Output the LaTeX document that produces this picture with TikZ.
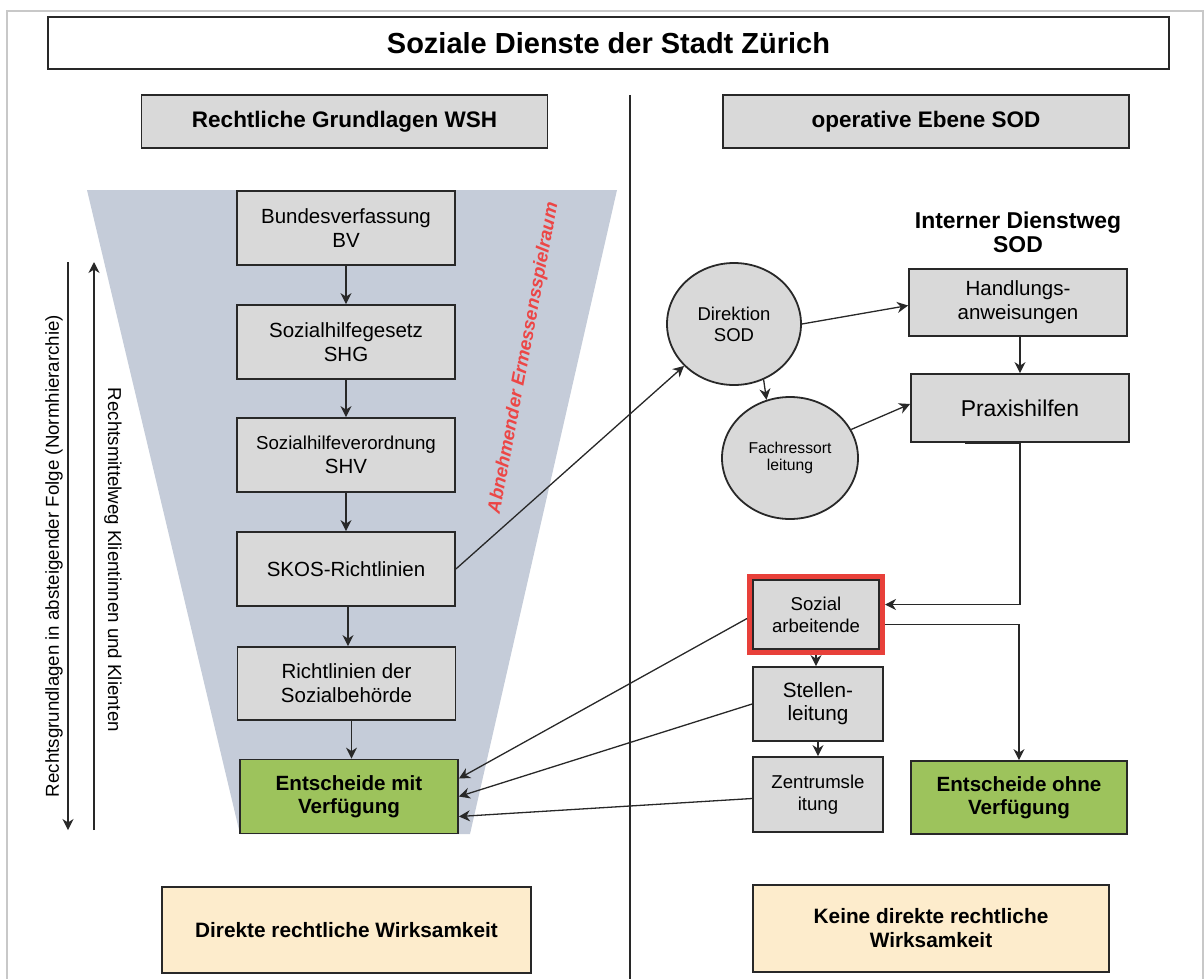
\documentclass[tikz,border=0pt]{standalone}
\usepackage{fontspec}
\setmainfont{Liberation Sans}
\usetikzlibrary{arrows.meta,shapes.geometric}
\definecolor{boxgray}{RGB}{217,217,217}
\definecolor{boxborder}{RGB}{40,40,40}
\definecolor{linecol}{RGB}{40,40,40}
\definecolor{funnel}{RGB}{197,204,217}
\definecolor{okgreen}{RGB}{157,195,92}
\definecolor{beige}{RGB}{253,236,204}
\definecolor{framegray}{RGB}{200,200,200}
\definecolor{hired}{RGB}{232,64,58}
\definecolor{textred}{RGB}{236,70,70}
\begin{document}
\begin{tikzpicture}[x=1pt,y=1pt,
  box/.style={draw=boxborder,line width=1.8pt,fill=boxgray,align=center,inner sep=0pt,
    minimum width=218pt,minimum height=74pt,font=\fontsize{20.5}{24}\selectfont},
  greenbox/.style={box,fill=okgreen,font=\bfseries\fontsize{20.6}{23.5}\selectfont},
  beigebox/.style={box,fill=beige,font=\bfseries\fontsize{20.8}{24}\selectfont},
  headbox/.style={box,minimum width=406pt,minimum height=53pt,font=\bfseries\fontsize{22.5}{26}\selectfont},
  circ/.style={ellipse,draw=boxborder,line width=1.8pt,fill=boxgray,align=center,inner sep=0pt,
    minimum width=134pt,minimum height=122pt},
  conn/.style={draw=linecol,line width=1.3pt,-{Stealth[length=11pt,width=11pt,inset=3.5pt]}},
  sidetext/.style={font=\fontsize{18.7}{22}\selectfont,inner sep=0pt}
]
\useasboundingbox (0,0) rectangle (1204,-979);
% outer frame
\draw[framegray,line width=2pt] (7,-979) -- (7,-11) -- (1203,-11) -- (1203,-979);
% title
\node[draw=boxborder,line width=1.8pt,minimum width=1121pt,minimum height=52pt,inner sep=0pt,
  font=\bfseries\fontsize{29}{34}\selectfont] (title) at (608.5,-43) {Soziale Dienste der Stadt Zürich};
% headers
\node[headbox] (hl) at (344.5,-121.5) {Rechtliche Grundlagen WSH};
\node[headbox] (hr) at (926,-121.5) {operative Ebene SOD};
% divider
\draw[linecol,line width=1.3pt] (630,-95) -- (630,-979);
% funnel
\fill[funnel] (87,-190) -- (617,-190) -- (470,-834) -- (240,-834) -- cycle;
% left column boxes
\node[box] (bv) at (346,-228) {Bundesverfassung\\BV};
\node[box] (shg) at (346,-342) {Sozialhilfegesetz\\SHG};
\node[box] (shv) at (346,-455) {{\fontsize{18.7}{24}\selectfont Sozialhilfeverordnung}\\SHV};
\node[box] (skos) at (346,-569) {SKOS-Richtlinien};
\node[box,minimum height=73pt] (rl) at (346.5,-683.5) {Richtlinien der\\Sozialbehörde};
\node[greenbox] (emv) at (349,-796.5) {Entscheide mit\\Verfügung};
\draw[conn] (bv) -- (shg);
\draw[conn] (shg) -- (shv);
\draw[conn] (shv) -- (skos);
\draw[conn] ([xshift=2pt]skos.south) -- ([xshift=2pt]skos.south |- rl.north);
\draw[conn] ([xshift=5pt]rl.south) -- ([xshift=5pt]rl.south |- emv.north);
% red rotated text
\node[rotate=79.4,text=textred,inner sep=0pt,font=\bfseries\itshape\fontsize{18.5}{22}\selectfont] (erm) at (524,-358) {Abnehmender Ermessensspielraum};
% left side arrows and texts
\coordinate (a1top) at (68,-262);
\coordinate (a1bot) at (68,-830);
\coordinate (a2top) at (94,-262);
\coordinate (a2bot) at (94,-830);
\draw[conn] (a1top) -- (a1bot);
\draw[conn] (a2bot) -- (a2top);
\node[sidetext,rotate=90] (t1) at (54,-556) {Rechtsgrundlagen in absteigender Folge (Normhierarchie)};
\node[sidetext,rotate=-90] (t2) at (113,-560) {Rechtsmittelweg Klientinnen und Klienten};
% right side
\node[align=center,inner sep=0pt,font=\bfseries\fontsize{22.9}{24}\selectfont] (idw) at (1018,-232) {Interner Dienstweg\\SOD};
\node[circ,font=\fontsize{18.5}{21}\selectfont] (dir) at (734,-324) {Direktion\\SOD};
\node[circ,minimum width=136pt,font=\fontsize{15.7}{17.5}\selectfont] (fach) at (790,-458) {Fachressort\\leitung};
\node[box,minimum height=67pt] (hand) at (1018,-302.5) {Handlungs-\\anweisungen};
\node[box,minimum height=68pt,font=\fontsize{22.9}{26}\selectfont] (prax) at (1020,-408) {Praxishilfen};
\node[box,minimum width=126pt,minimum height=69pt,font=\fontsize{18.6}{22}\selectfont] (soz) at (816,-614.5) {Sozial\\arbeitende};
\node[draw=hired,line width=5pt,minimum width=133pt,minimum height=76pt,inner sep=0pt] (sozframe) at (816,-614.5) {};
\node[box,minimum width=130pt,minimum height=74pt,font=\fontsize{20.7}{23}\selectfont] (stel) at (818,-704) {Stellen-\\leitung};
\node[box,minimum width=130pt,minimum height=75pt,font=\fontsize{18.6}{22}\selectfont] (zent) at (818,-794.5) {Zentrumsle\\itung};
\node[greenbox,minimum width=216pt,minimum height=73pt] (eov) at (1019,-797.5) {Entscheide ohne\\Verfügung};
% bottom boxes
\node[beigebox,minimum width=369pt,minimum height=86pt] (wl) at (346.5,-930) {Direkte rechtliche Wirksamkeit};
\node[beigebox,minimum width=356pt,minimum height=87pt] (wr) at (931,-928.5) {Keine direkte rechtliche\\Wirksamkeit};
% connectors right side
\draw[conn] (skos.east) -- (dir.-140);
\draw[conn] (dir.east) -- ([yshift=-3pt]hand.west);
\draw[conn] (dir.-62) -- (fach.112);
\draw[conn] (fach.25) -- ([yshift=4pt]prax.west);
\draw[conn] ([xshift=2pt]hand.south) -- ([xshift=2pt]hand.south |- prax.north);
\draw[boxborder,line width=3pt] ([xshift=-55pt]prax.south) -- (prax.south);
\draw[conn] (prax.south) |- ([yshift=10pt]sozframe.east);
\draw[conn] ([yshift=-10pt]sozframe.east) -| (eov.north);
\draw[conn] (sozframe.south) -- (sozframe.south |- stel.north);
\draw[conn] (stel.south) -- (zent.north);
\draw[conn] ([yshift=-4pt]sozframe.west) -- ([yshift=18pt]emv.east);
\draw[conn] (stel.west) -- (emv.east);
\draw[conn] ([yshift=-4pt]zent.west) -- ([yshift=-20pt]emv.east);
\end{tikzpicture}
\end{document}
